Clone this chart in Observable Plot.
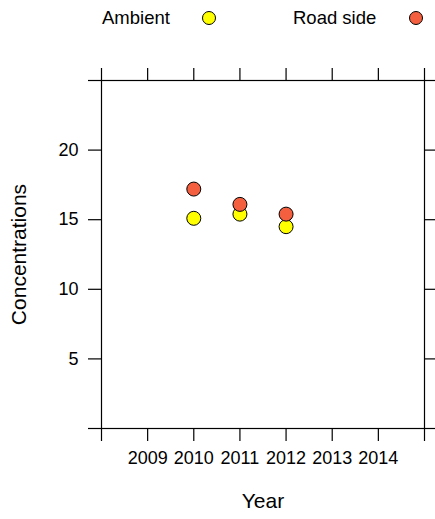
<!DOCTYPE html>
<html>
<head>
<meta charset="utf-8">
<script src="https://cdn.jsdelivr.net/npm/d3@7"></script>
<script src="https://cdn.jsdelivr.net/npm/@observablehq/plot@0.6"></script>
<style>
  html, body { margin: 0; padding: 0; background: #fff; }
  body { width: 435px; height: 519px; overflow: hidden; font-family: "Liberation Sans", Arial, sans-serif; }
  #legend { position: relative; height: 38px; width: 435px; font-size: 18.5px; color: #000; }
  #legend .lab { position: absolute; top: 7px; line-height: 22px; white-space: nowrap; }
  #legend .sw { position: absolute; width: 12px; height: 12px; border: 1px solid #000; border-radius: 50%; top: 11px; }
</style>
</head>
<body>
<div id="legend"></div>
<div id="chart"></div>
<script>
const years = [2010, 2011, 2012];
const ambient = [15.1, 15.4, 14.5];
const roadside = [17.2, 16.1, 15.4];
const seriesNames = ["Ambient", "Road side"];
const seriesColors = ["#FFFF00", "#F4603F"];
const xTicks = [2008, 2009, 2010, 2011, 2012, 2013, 2014, 2015];
const xLabeled = [2009, 2010, 2011, 2012, 2013, 2014];
const yTicks = [0, 5, 10, 15, 20, 25];
const yLabeled = [5, 10, 15, 20];

const data = [];
years.forEach((y, i) => data.push({year: y, value: ambient[i], series: seriesNames[0]}));
years.forEach((y, i) => data.push({year: y, value: roadside[i], series: seriesNames[1]}));

// legend
const legend = document.getElementById("legend");
const legendPos = [{text: 102, sw: 202}, {text: 293, sw: 409}];
seriesNames.forEach((n, i) => {
  const t = document.createElement("div");
  t.className = "lab"; t.textContent = n; t.style.left = legendPos[i].text + "px";
  legend.appendChild(t);
  const s = document.createElement("div");
  s.className = "sw"; s.style.background = seriesColors[i]; s.style.left = legendPos[i].sw + "px";
  legend.appendChild(s);
});

const chart = Plot.plot({
  width: 435,
  height: 481,
  marginLeft: 101,
  marginRight: 11,
  marginTop: 42,
  marginBottom: 91,
  style: {fontFamily: '"Liberation Sans", Arial, sans-serif', color: "#000", background: "#fff", overflow: "visible"},
  x: {domain: [2008, 2015]},
  y: {domain: [0, 25]},
  color: {domain: seriesNames, range: seriesColors},
  marks: [
    Plot.axisX({anchor: "bottom", ticks: xTicks, tickSize: 13, tickPadding: 10, fontSize: 18, strokeWidth: 1.2,
      tickFormat: d => xLabeled.includes(d) ? String(d) : "", label: "Year", labelArrow: "none", labelAnchor: "center", labelOffset: 79}),
    Plot.axisX({anchor: "top", ticks: xTicks, tickSize: 13, strokeWidth: 1.2, tickFormat: () => "", label: null}),
    Plot.axisY({anchor: "left", ticks: yTicks, tickSize: 13, tickPadding: 10, fontSize: 18, strokeWidth: 1.2,
      tickFormat: d => yLabeled.includes(d) ? String(d) : "", label: "Concentrations", labelArrow: "none", labelAnchor: "center", labelOffset: 90}),
    Plot.axisY({anchor: "right", ticks: yTicks, tickSize: 13, strokeWidth: 1.2, tickFormat: () => "", label: null}),
    Plot.frame({stroke: "#000", strokeWidth: 1.2}),
    Plot.dot(data, {x: "year", y: "value", fill: "series", stroke: "#000", strokeWidth: 1, r: 7})
  ]
});
document.getElementById("chart").appendChild(chart);
// axis titles: remove any arrow, enlarge
chart.querySelectorAll("text").forEach(t => {
  const s = t.textContent;
  if (/Year|Concentrations/.test(s)) {
    t.textContent = s.replace(/\s*[→←↑↓]\s*/g, "");
    t.setAttribute("font-size", 21);
    if (t.parentNode && t.parentNode.setAttribute) t.parentNode.setAttribute("font-size", 21);
  }
});
</script>
</body>
</html>
